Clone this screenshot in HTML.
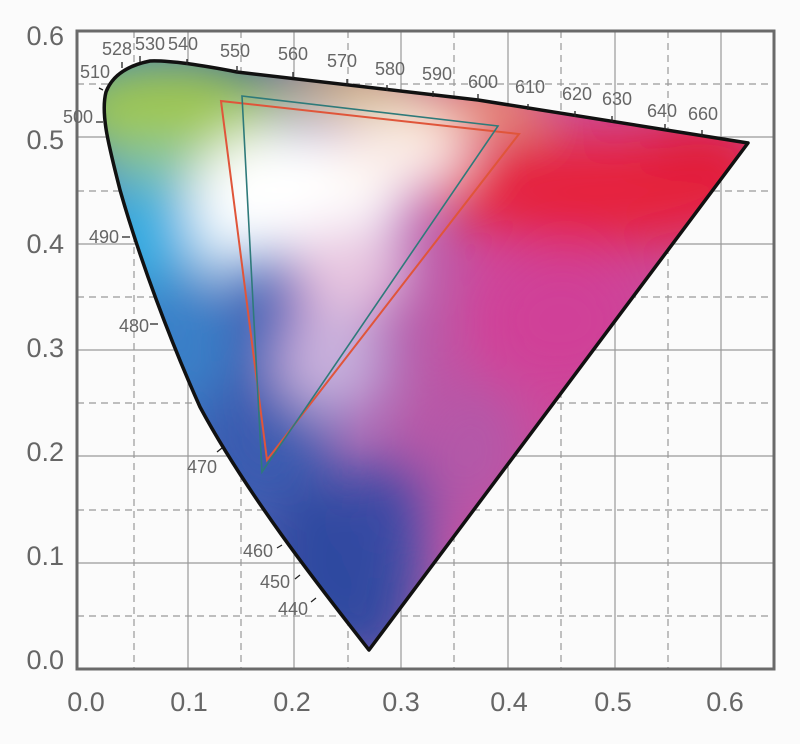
<!DOCTYPE html>
<html><head><meta charset="utf-8"><style>
html,body{margin:0;padding:0;background:#fbfbfb;}
svg{display:block;}
text{font-family:"Liberation Sans",sans-serif;fill:#666;}
</style></head><body>
<svg width="800" height="744" viewBox="0 0 800 744" xmlns="http://www.w3.org/2000/svg">
<defs>
<clipPath id="loc"><path d="M369,650 C330,600 250,500 200,407 C170,340 140,260 120,190 C110,150 100,115 106,92 Q115,68 150,61 Q175,60 237,72 L478,100 L748,143 Z"/></clipPath>
<linearGradient id="base" x1="0" y1="0" x2="1" y2="0" gradientUnits="objectBoundingBox">
<stop offset="0.12" stop-color="#3a86cc"/>
<stop offset="0.3" stop-color="#3c62b4"/>
<stop offset="0.45" stop-color="#a868b4"/>
<stop offset="0.62" stop-color="#cc4a9c"/>
<stop offset="1" stop-color="#c84898"/>
</linearGradient>
<filter id="b" x="-50%" y="-50%" width="200%" height="200%"><feGaussianBlur stdDeviation="26"/></filter>
</defs>
<rect width="800" height="744" fill="#fbfbfb"/>
<g stroke="#999" stroke-width="1.2" fill="none">
<path d="M188,31V669M294,31V669M401,31V669M508,31V669M615,31V669M721,31V669M77,563H774M77,456H774M77,350H774M77,244H774M77,137H774"/>
<path stroke-dasharray="7,5" d="M134,31V669M241,31V669M348,31V669M454,31V669M561,31V669M668,31V669M77,616H774M77,510H774M77,403H774M77,297H774M77,191H774M77,84H774"/>
</g>
<rect x="77" y="31" width="697" height="638" fill="none" stroke="#6a6a6a" stroke-width="3"/>
<g clip-path="url(#loc)">
<rect x="0" y="0" width="800" height="744" fill="url(#base)"/>
<g filter="url(#b)">
<ellipse cx="610" cy="190" rx="170" ry="55" fill="#e6203c"/>
<ellipse cx="700" cy="150" rx="60" ry="30" fill="#e01a38"/>
<ellipse cx="560" cy="320" rx="80" ry="70" fill="#d04098"/>
<ellipse cx="470" cy="450" rx="55" ry="70" fill="#b458a8"/>
<ellipse cx="480" cy="108" rx="70" ry="22" fill="#f0a060"/>
<ellipse cx="350" cy="90" rx="80" ry="20" fill="#dccf66"/>
<ellipse cx="170" cy="110" rx="110" ry="50" fill="#a0c850"/>
<ellipse cx="150" cy="170" rx="50" ry="30" fill="#80c4a0"/>
<ellipse cx="150" cy="240" rx="55" ry="60" fill="#38aee2"/>
<ellipse cx="180" cy="340" rx="50" ry="70" fill="#3a80c8"/>
<ellipse cx="260" cy="440" rx="60" ry="70" fill="#3a5cb0"/>
<ellipse cx="340" cy="565" rx="80" ry="90" fill="#2f48a0"/>
<ellipse cx="370" cy="630" rx="40" ry="40" fill="#3048a0"/>
<ellipse cx="390" cy="510" rx="40" ry="50" fill="#3a4aa4"/>
<ellipse cx="330" cy="360" rx="55" ry="55" fill="#c8b0dc"/>
<ellipse cx="230" cy="230" rx="40" ry="50" fill="#d8ecf8"/>
<ellipse cx="300" cy="190" rx="110" ry="65" fill="#ffffff"/>
<ellipse cx="400" cy="150" rx="70" ry="40" fill="#fcefe8"/>
<ellipse cx="350" cy="270" rx="60" ry="45" fill="#e8c6e0"/>
</g>
</g>
<path d="M369,650 C330,600 250,500 200,407 C170,340 140,260 120,190 C110,150 100,115 106,92 Q115,68 150,61 Q175,60 237,72 L478,100 L748,143 Z" fill="none" stroke="#111" stroke-width="3.5" stroke-linejoin="round"/>
<polygon points="221,101 519,134 267,460" fill="none" stroke="#e0553a" stroke-width="2"/>
<polygon points="242,96 498,126 262,472" fill="none" stroke="#2e7a7a" stroke-width="1.6"/>
<g stroke="#222" stroke-width="1.3">
<path d="M122,237H130M150,324H158M222,448l-5,4M282,545l-5,3M300,575l-5,4M316,598l-5,4M96,122H103M103,90l-4,-2M122,68v-6M140,62v-6M187,65v-6M237,72v-6M293,78v-6M347,85v-6M387,91v-6M433,97v-6M478,100v-6M528,110v-6M575,117v-6M612,122v-6M665,130v-6M702,136v-6"/>
</g>
<g font-size="18">
<text x="80" y="78" textLength="30">510</text>
<text x="63" y="123" textLength="30">500</text>
<text x="102" y="55" textLength="30">528</text>
<text x="135" y="50" textLength="30">530</text>
<text x="168" y="50" textLength="30">540</text>
<text x="220" y="57" textLength="30">550</text>
<text x="278" y="60" textLength="30">560</text>
<text x="327" y="67" textLength="30">570</text>
<text x="375" y="75" textLength="30">580</text>
<text x="422" y="80" textLength="30">590</text>
<text x="468" y="88" textLength="30">600</text>
<text x="515" y="93" textLength="30">610</text>
<text x="562" y="100" textLength="30">620</text>
<text x="602" y="105" textLength="30">630</text>
<text x="647" y="117" textLength="30">640</text>
<text x="688" y="120" textLength="30">660</text>
<text x="89" y="243" textLength="30">490</text>
<text x="119" y="332" textLength="30">480</text>
<text x="187" y="473" textLength="30">470</text>
<text x="243" y="557" textLength="30">460</text>
<text x="260" y="588" textLength="30">450</text>
<text x="278" y="615" textLength="30">440</text>
</g>
<g font-size="27" text-anchor="end">
<text x="64" y="45">0.6</text>
<text x="64" y="149">0.5</text>
<text x="64" y="253">0.4</text>
<text x="64" y="357">0.3</text>
<text x="64" y="461">0.2</text>
<text x="64" y="565">0.1</text>
<text x="64" y="669">0.0</text>
</g>
<g font-size="27" text-anchor="middle">
<text x="86" y="711">0.0</text>
<text x="189" y="711">0.1</text>
<text x="292" y="711">0.2</text>
<text x="401" y="711">0.3</text>
<text x="509" y="711">0.4</text>
<text x="613" y="711">0.5</text>
<text x="725" y="711">0.6</text>
</g>
</svg>
</body></html>
